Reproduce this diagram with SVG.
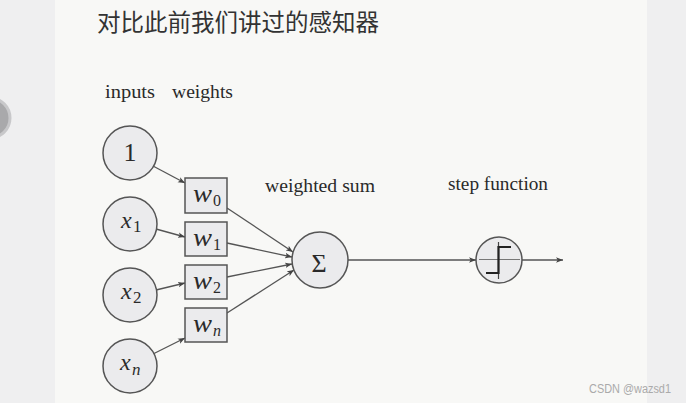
<svg xmlns="http://www.w3.org/2000/svg" width="686" height="403" viewBox="0 0 686 403">
<style>
.nd{fill:#ebebed;stroke:#555;stroke-width:1.5}
.ln{fill:none;stroke:#555;stroke-width:1.3}
.lbl{font-family:"Liberation Serif","DejaVu Serif",serif;font-size:19px;fill:#2a2a2a}
.mi{font-family:"Liberation Serif","DejaVu Serif",serif;font-style:italic;fill:#2a2a2a}
.mr{font-family:"Liberation Serif","DejaVu Serif",serif;fill:#2a2a2a}
</style>
<defs>
<marker id="ah" viewBox="0 0 10 10" refX="10" refY="5" markerWidth="7" markerHeight="7" markerUnits="userSpaceOnUse" orient="auto">
<path d="M0,1 L10,5 L0,9 L2.5,5 Z" fill="#444"/>
</marker>
</defs>
<rect x="0" y="0" width="686" height="403" fill="#f8f8f6"/>
<rect x="0" y="0" width="55" height="403" fill="#efeff0"/>
<rect x="647" y="0" width="39" height="403" fill="#efeff0"/>
<circle cx="-10" cy="118" r="20" fill="#a9a9ab" stroke="#c8c8ca" stroke-width="3"/>
<text x="97" y="31" font-family="'Noto Sans CJK SC',sans-serif" font-size="23.5" fill="#333">对比此前我们讲过的感知器</text>
<text class="lbl" x="105" y="98" textLength="50" lengthAdjust="spacingAndGlyphs">inputs</text>
<text class="lbl" x="172" y="98" textLength="61" lengthAdjust="spacingAndGlyphs">weights</text>
<text class="lbl" x="265" y="192" textLength="110" lengthAdjust="spacingAndGlyphs">weighted sum</text>
<text class="lbl" x="448" y="190" textLength="100" lengthAdjust="spacingAndGlyphs">step function</text>
<g id="connectors">
<line class="ln" x1="153" y1="166" x2="185" y2="183" marker-end="url(#ah)"/>
<line class="ln" x1="156" y1="229" x2="185" y2="237" marker-end="url(#ah)"/>
<line class="ln" x1="156" y1="290" x2="185" y2="283" marker-end="url(#ah)"/>
<line class="ln" x1="153" y1="354" x2="185" y2="338" marker-end="url(#ah)"/>
<line class="ln" x1="227" y1="208" x2="293" y2="252" marker-end="url(#ah)"/>
<line class="ln" x1="227" y1="243" x2="292" y2="257" marker-end="url(#ah)"/>
<line class="ln" x1="227" y1="277" x2="292" y2="264" marker-end="url(#ah)"/>
<line class="ln" x1="227" y1="313" x2="294" y2="270" marker-end="url(#ah)"/>
<line class="ln" x1="348" y1="260" x2="476" y2="260" marker-end="url(#ah)"/>
<line class="ln" x1="522" y1="260" x2="563" y2="260" marker-end="url(#ah)"/>
</g>
<g id="in1"><circle class="nd" cx="130" cy="153" r="27"/><text class="mr" x="130" y="161" font-size="26" text-anchor="middle">1</text></g>
<g id="inx1"><circle class="nd" cx="130" cy="224" r="27"/><text class="mi" x="121" y="228" font-size="24">x</text><text class="mr" x="133" y="232" font-size="17">1</text></g>
<g id="inx2"><circle class="nd" cx="130" cy="295" r="27"/><text class="mi" x="121" y="299" font-size="24">x</text><text class="mr" x="133" y="303" font-size="17">2</text></g>
<g id="inxn"><circle class="nd" cx="130" cy="366" r="27"/><text class="mi" x="120" y="370" font-size="24">x</text><text class="mi" x="132" y="375" font-size="17">n</text></g>
<g id="w0"><rect class="nd" x="185" y="178" width="42" height="35"/><text class="mi" x="193" y="202" font-size="25" textLength="19" lengthAdjust="spacingAndGlyphs">w</text><text class="mr" x="213" y="206" font-size="16">0</text></g>
<g id="w1"><rect class="nd" x="185" y="222" width="42" height="34"/><text class="mi" x="193" y="246" font-size="25" textLength="19" lengthAdjust="spacingAndGlyphs">w</text><text class="mr" x="213" y="250" font-size="16">1</text></g>
<g id="w2"><rect class="nd" x="185" y="265" width="42" height="34"/><text class="mi" x="193" y="289" font-size="25" textLength="19" lengthAdjust="spacingAndGlyphs">w</text><text class="mr" x="213" y="293" font-size="16">2</text></g>
<g id="wn"><rect class="nd" x="185" y="308" width="42" height="34"/><text class="mi" x="193" y="332" font-size="25" textLength="19" lengthAdjust="spacingAndGlyphs">w</text><text class="mi" x="213" y="336" font-size="16">n</text></g>
<g id="sum"><circle class="nd" cx="320" cy="260" r="28"/><text class="mr" x="319" y="272" font-size="26" text-anchor="middle">Σ</text></g>
<g id="step"><circle class="nd" cx="499" cy="260" r="23"/>
<line x1="479" y1="259.5" x2="520" y2="259.5" stroke="#777" stroke-width="1"/>
<line x1="498.5" y1="242" x2="498.5" y2="279" stroke="#444" stroke-width="1.2"/>
<path d="M486,273 H498.5 V247 H511" fill="none" stroke="#222" stroke-width="2.2"/>
</g>
<text x="589" y="393" font-family="'Liberation Sans',Arial,sans-serif" font-size="12" fill="#aaa" textLength="82" lengthAdjust="spacingAndGlyphs">CSDN @wazsd1</text>
</svg>
